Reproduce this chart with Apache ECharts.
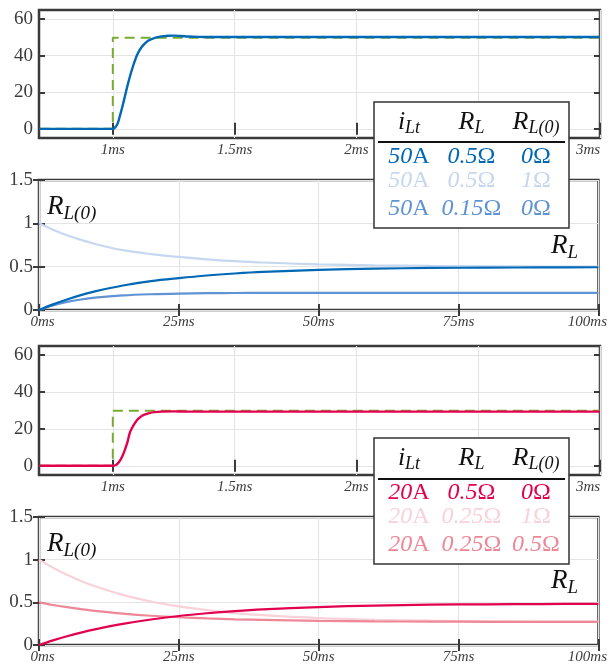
<!DOCTYPE html>
<html><head><meta charset="utf-8">
<script src="https://cdn.jsdelivr.net/npm/echarts@6/dist/echarts.min.js"></script>
<style>html,body{margin:0;padding:0;background:#fff}#c{width:610px;height:665px}</style>
</head><body><div id="c"></div>
<script>
// ---------------- data ----------------
const stepXTicks = [1, 1.5, 2, 2.5, 3];
const stepYTicks = [0, 20, 40, 60];
const decayXTicks = [0, 25, 50, 75, 100];
const decayYTicks = [0, 0.5, 1, 1.5];

// panel 1: 50 A step (ms, A)
const stepTimeA = [0.70, 1.00, 1.01, 1.02, 1.03, 1.04, 1.05, 1.06, 1.07, 1.08, 1.09, 1.10, 1.11, 1.12, 1.13, 1.14, 1.15, 1.17, 1.19, 1.21, 1.23, 1.25, 1.28, 1.31, 1.35, 1.40, 1.50, 2.00, 2.50, 3.00];
const currentA  = [0, 0, 0.8, 3, 7.5, 12.5, 18, 23.5, 28.5, 33, 37, 40.5, 43, 45, 46.5, 47.7, 48.5, 49.6, 50.3, 50.7, 50.9, 51.0, 50.8, 50.5, 50.3, 50.2, 50.2, 50.2, 50.2, 50.2];
const refTimeA  = [0.70, 1.00, 1.00, 3.00];
const refA      = [0, 0, 49.8, 49.8];

// panel 3: 20 A step (ms, A)
const stepTimeB = [0.70, 1.00, 1.01, 1.02, 1.03, 1.04, 1.05, 1.06, 1.07, 1.08, 1.09, 1.10, 1.11, 1.12, 1.13, 1.15, 1.17, 1.20, 1.25, 1.30, 1.40, 2.00, 3.00];
const currentB  = [0, 0, 0.3, 1.2, 3, 5.5, 8.8, 12.8, 18, 20.8, 23, 24.8, 26.1, 27.1, 27.8, 28.6, 29.1, 29.4, 29.5, 29.4, 29.4, 29.4, 29.4];
const refTimeB  = [0.70, 1.00, 1.00, 3.00];
const refB      = [0, 0, 29.8, 29.8];

// panels 2 & 4: R_L estimate (ms, ohm)
const decayTime = [0, 2.5, 5, 7.5, 10, 15, 20, 25, 30, 35, 40, 50, 60, 70, 80, 90, 100];
const rlBlue1 = [0, 0.065, 0.122, 0.172, 0.215, 0.283, 0.333, 0.368, 0.398, 0.421, 0.439, 0.463, 0.477, 0.485, 0.489, 0.491, 0.493];
const rlBlue2 = [1.0, 0.925, 0.862, 0.81, 0.762, 0.69, 0.645, 0.612, 0.585, 0.564, 0.548, 0.527, 0.515, 0.508, 0.505, 0.502, 0.501];
const rlBlue3 = [0, 0.054, 0.093, 0.121, 0.142, 0.168, 0.182, 0.19, 0.194, 0.196, 0.197, 0.198, 0.198, 0.198, 0.198, 0.198, 0.198];
const rlRed1  = [0, 0.054, 0.102, 0.145, 0.183, 0.247, 0.299, 0.34, 0.372, 0.398, 0.418, 0.445, 0.462, 0.472, 0.477, 0.48, 0.482];
const rlRed2  = [1.0, 0.905, 0.823, 0.751, 0.689, 0.587, 0.51, 0.452, 0.408, 0.374, 0.349, 0.315, 0.296, 0.285, 0.279, 0.275, 0.274];
const rlRed3  = [0.5, 0.469, 0.443, 0.42, 0.40, 0.368, 0.343, 0.325, 0.311, 0.301, 0.294, 0.283, 0.277, 0.274, 0.272, 0.271, 0.27];

// legend tables: [current, R_L, R_L(0)] as [number, unit]
const tableHeader = [['i', 'Lt'], ['R', 'L'], ['R', 'L(0)']];
const tableBlue = [
  [['50', 'A'], ['0.5', 'Ω'], ['0', 'Ω']],
  [['50', 'A'], ['0.5', 'Ω'], ['1', 'Ω']],
  [['50', 'A'], ['0.15', 'Ω'], ['0', 'Ω']]
];
const tableRed = [
  [['20', 'A'], ['0.5', 'Ω'], ['0', 'Ω']],
  [['20', 'A'], ['0.25', 'Ω'], ['1', 'Ω']],
  [['20', 'A'], ['0.25', 'Ω'], ['0.5', 'Ω']]
];

// ---------------- styles ----------------
const FONT = 'Liberation Serif';
const C = {
  blue1: '#0068b4', blue2: '#c6d7ef', blue3: '#5f93d4',
  red1: '#e3004f', red2: '#f8d2d8', red3: '#ee8797',
  green: '#77ac30', axis: '#3a3a3a', grid: '#e4e4e4', text: '#3c3c3c'
};
const zip = (xs, ys) => xs.map((x, i) => [x, ys[i]]);

const grids = [
  { left: 39, top: 10, width: 561, height: 128 },
  { left: 39, top: 180, width: 561, height: 130 },
  { left: 39, top: 346, width: 561, height: 129 },
  { left: 39, top: 517, width: 561, height: 128 }
].map(g => Object.assign(g, { show: true, borderColor: C.axis, borderWidth: 2.5, backgroundColor: 'rgba(0,0,0,0)' }));

const tickStyle = (vals) => ({ show: true, inside: true, length: 6, customValues: vals, lineStyle: { color: C.axis, width: 2 } });
const italicLbl = { fontFamily: FONT, fontStyle: 'italic', fontSize: 15, color: C.text };

function xPair(gi, min, max, ticks, fmt) {
  const base = { gridIndex: gi, type: 'value', min, max, axisLine: { show: false } };
  return [
    Object.assign({}, base, {
      position: 'bottom', axisTick: tickStyle(ticks),
      axisLabel: Object.assign({ show: true, customValues: ticks, formatter: fmt, margin: 5,
        rich: {
          r3: Object.assign({ padding: [0, 24, 0, 0] }, italicLbl),
          l0: Object.assign({ padding: [0, 0, 0, 7] }, italicLbl),
          r100: Object.assign({ padding: [0, 22, 0, 0] }, italicLbl)
        } }, italicLbl),
      splitLine: { show: true, lineStyle: { color: C.grid, width: 1.2 } }
    }),
    Object.assign({}, base, { position: 'top', axisTick: tickStyle(ticks), axisLabel: { show: false }, splitLine: { show: false } })
  ];
}
function yPair(gi, min, max, ticks) {
  const base = { gridIndex: gi, type: 'value', min, max, axisLine: { show: false } };
  return [
    Object.assign({}, base, {
      position: 'left', axisTick: tickStyle(ticks),
      axisLabel: { show: true, customValues: ticks, margin: 6, fontFamily: FONT, fontSize: 19, color: C.text },
      splitLine: { show: true, lineStyle: { color: C.grid, width: 1.2 } }
    }),
    Object.assign({}, base, { position: 'right', axisTick: tickStyle(ticks), axisLabel: { show: false }, splitLine: { show: false } })
  ];
}
const fmtStep = v => v === 3 ? '{r3|3ms}' : v + 'ms';
const fmtDecay = v => v === 0 ? '{l0|0ms}' : (v === 100 ? '{r100|100ms}' : v + 'ms');

const xAxis = [].concat(
  xPair(0, 0.697, 3, stepXTicks, fmtStep),
  xPair(1, 0, 100, decayXTicks, fmtDecay),
  xPair(2, 0.697, 3, stepXTicks, fmtStep),
  xPair(3, 0, 100, decayXTicks, fmtDecay)
);
const yAxis = [].concat(
  yPair(0, -5, 65, stepYTicks),
  yPair(1, 0, 1.5, decayYTicks),
  yPair(2, -5, 65, stepYTicks),
  yPair(3, 0, 1.5, decayYTicks)
);

function line(ai, xs, ys, color, width, dashed, smooth) {
  return {
    type: 'line', xAxisIndex: ai, yAxisIndex: ai, data: zip(xs, ys), showSymbol: false, symbol: 'none',
    smooth: smooth ? 0.35 : false, silent: true, animation: false,
    lineStyle: { color, width, type: dashed ? [10, 6] : 'solid' }
  };
}
const series = [
  line(0, refTimeA, refA, C.green, 2, true, false),
  line(0, stepTimeA, currentA, C.blue1, 2.4, false, true),
  line(2, decayTime, rlBlue2, C.blue2, 2.2, false, true),
  line(2, decayTime, rlBlue3, C.blue3, 2.2, false, true),
  line(2, decayTime, rlBlue1, C.blue1, 2.2, false, true),
  line(4, refTimeB, refB, C.green, 2, true, false),
  line(4, stepTimeB, currentB, C.red1, 2.4, false, true),
  line(6, decayTime, rlRed2, C.red2, 2.2, false, true),
  line(6, decayTime, rlRed3, C.red3, 2.2, false, true),
  line(6, decayTime, rlRed1, C.red1, 2.2, false, true)
];

// ---------------- annotations / tables ----------------
function subText(x, y, main, sub, size, subSize, pad, align, color) {
  return {
    type: 'text', z: 100, x, y, silent: true,
    style: {
      text: '{m|' + main + '}{s|' + sub + '}', align: align, verticalAlign: 'middle',
      textAlign: align, textVerticalAlign: 'middle',
      rich: {
        m: { fontFamily: FONT, fontStyle: 'italic', fontSize: size, fill: color || '#111', lineHeight: size + 4 },
        s: { fontFamily: FONT, fontStyle: 'italic', fontSize: subSize, fill: color || '#111', padding: [pad, 0, 0, 0], lineHeight: subSize }
      }
    }
  };
}
function cellText(x, y, cell, color) {
  return {
    type: 'text', z: 100, x, y, silent: true,
    style: {
      text: '{n|' + cell[0] + '}{u|' + cell[1] + '}', align: 'center', verticalAlign: 'middle',
      textAlign: 'center', textVerticalAlign: 'middle',
      rich: {
        n: { fontFamily: FONT, fontStyle: 'italic', fontSize: 24, fill: color },
        u: { fontFamily: FONT, fontStyle: 'normal', fontSize: 24, fill: color }
      }
    }
  };
}
function table(x0, y0, lineY, rows, colors) {
  const cols = [x0 + 35, x0 + 97.5, x0 + 162];
  const els = [
    { type: 'rect', z: 99, silent: true, shape: { x: x0, y: y0, width: 195, height: 126 }, style: { fill: '#fff', stroke: '#333', lineWidth: 1.5 } },
    { type: 'line', z: 100, silent: true, shape: { x1: x0 + 4, y1: lineY, x2: x0 + 191, y2: lineY }, style: { stroke: '#111', lineWidth: 2.2 } }
  ];
  tableHeader.forEach((h, i) => els.push(subText(cols[i], y0 + 20, h[0], h[1], 26, 18, 13, 'center')));
  const rowY = [y0 + 55, y0 + 79, y0 + 107];
  rows.forEach((r, ri) => r.forEach((cell, ci) => els.push(cellText(cols[ci], rowY[ri], cell, colors[ri]))));
  return els;
}

const graphic = [].concat(
  table(374, 102, 142, tableBlue, [C.blue1, C.blue2, C.blue3]),
  table(374, 438, 479, tableRed, [C.red1, C.red2, C.red3]),
  [
    subText(47, 207, 'R', 'L(0)', 27, 19, 13, 'left'),
    subText(551, 246, 'R', 'L', 27, 19, 13, 'left'),
    subText(47, 544, 'R', 'L(0)', 27, 19, 13, 'left'),
    subText(551, 581, 'R', 'L', 27, 19, 13, 'left')
  ]
);

const chart = echarts.init(document.getElementById('c'), null, { renderer: 'canvas' });
chart.setOption({ animation: false, grid: grids, xAxis, yAxis, series, graphic });
</script></body></html>
